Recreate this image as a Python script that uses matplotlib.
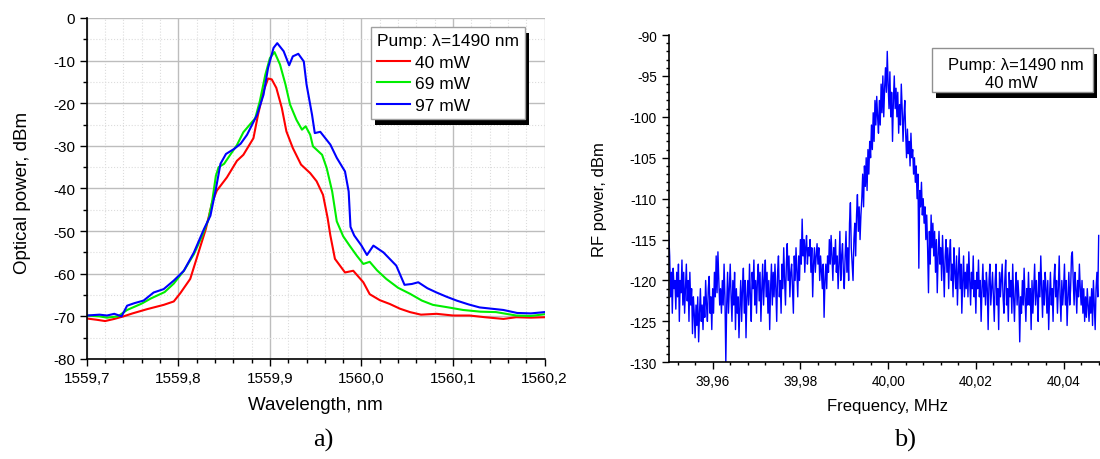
import numpy as np
import matplotlib
matplotlib.use('Agg')
import matplotlib.pyplot as plt
from matplotlib.ticker import MultipleLocator, FuncFormatter
from matplotlib.patches import Rectangle
from matplotlib import patheffects

plt.rcParams['font.family'] = ['Liberation Sans', 'DejaVu Sans']
plt.rcParams['axes.unicode_minus'] = False

# a) optical spectra, wavelength in nm, power in dBm
wl_40 = [1559.700, 1559.711, 1559.720, 1559.730, 1559.740, 1559.750, 1559.766, 1559.784, 1559.795,
         1559.802, 1559.813, 1559.822, 1559.830, 1559.837, 1559.842, 1559.853, 1559.864, 1559.871,
         1559.882, 1559.887, 1559.893, 1559.898, 1559.902, 1559.907, 1559.913, 1559.918, 1559.925,
         1559.934, 1559.944, 1559.951, 1559.958, 1559.963, 1559.966, 1559.971, 1559.982, 1559.991,
         1560.002, 1560.009, 1560.020, 1560.031, 1560.042, 1560.053, 1560.065, 1560.082, 1560.100,
         1560.118, 1560.135, 1560.155, 1560.169, 1560.185, 1560.200]
p_40 = [-70.5, -70.8, -71.1, -70.6, -70.0, -69.3, -68.3, -67.3, -66.5,
        -64.6, -61.2, -55.0, -49.5, -43.2, -40.5, -37.4, -33.5, -32.1,
        -28.2, -22.7, -17.2, -14.2, -14.4, -16.4, -21.1, -26.6, -30.5,
        -34.4, -36.4, -38.3, -41.5, -46.9, -51.0, -56.5, -59.7, -59.3,
        -62.0, -64.8, -66.2, -67.1, -68.2, -69.0, -69.6, -69.4, -69.8,
        -69.8, -70.2, -70.6, -70.2, -70.3, -70.2]

wl_69 = [1559.700, 1559.714, 1559.722, 1559.734, 1559.744, 1559.760, 1559.770, 1559.785, 1559.795,
         1559.806, 1559.817, 1559.826, 1559.833, 1559.837, 1559.841, 1559.844, 1559.850, 1559.856,
         1559.864, 1559.871, 1559.884, 1559.889, 1559.895, 1559.900, 1559.905, 1559.911, 1559.917,
         1559.922, 1559.929, 1559.935, 1559.939, 1559.944, 1559.947, 1559.957, 1559.962, 1559.968,
         1559.973, 1559.980, 1559.987, 1559.995, 1560.002, 1560.009, 1560.017, 1560.027, 1560.040,
         1560.053, 1560.066, 1560.078, 1560.095, 1560.111, 1560.130, 1560.147, 1560.169, 1560.185,
         1560.200]
p_69 = [-69.8, -70.0, -70.3, -70.0, -68.5, -67.0, -65.8, -64.3, -62.3,
        -59.3, -55.4, -51.1, -47.2, -42.9, -37.0, -35.0, -34.2, -32.3,
        -29.8, -26.8, -23.5, -19.5, -13.3, -9.4, -8.0, -10.9, -15.6,
        -20.3, -23.9, -26.2, -25.4, -27.4, -30.1, -32.1, -35.2, -40.7,
        -47.7, -51.2, -53.4, -55.8, -57.7, -57.2, -59.2, -61.2, -63.3,
        -64.7, -66.3, -67.3, -67.9, -68.5, -68.9, -69.0, -69.8, -69.9,
        -69.5]

wl_97 = [1559.700, 1559.714, 1559.722, 1559.730, 1559.738, 1559.744, 1559.752, 1559.762, 1559.773,
         1559.784, 1559.795, 1559.806, 1559.817, 1559.828, 1559.835, 1559.841, 1559.846, 1559.852,
         1559.861, 1559.868, 1559.875, 1559.886, 1559.893, 1559.898, 1559.904, 1559.908, 1559.915,
         1559.921, 1559.925, 1559.931, 1559.937, 1559.940, 1559.946, 1559.949, 1559.955, 1559.966,
         1559.973, 1559.982, 1559.986, 1559.988, 1559.992, 1560.000, 1560.006, 1560.013, 1560.024,
         1560.038, 1560.047, 1560.055, 1560.062, 1560.072, 1560.082, 1560.093, 1560.104, 1560.117,
         1560.129, 1560.142, 1560.155, 1560.170, 1560.185, 1560.200]
p_97 = [-69.8, -69.6, -69.8, -69.4, -70.0, -67.5, -66.9, -66.3, -64.4,
        -63.6, -61.6, -59.3, -55.0, -49.5, -46.4, -40.1, -34.2, -31.9,
        -30.7, -29.5, -27.4, -22.7, -18.0, -11.7, -7.0, -5.9, -7.8,
        -11.1, -9.0, -8.4, -10.2, -15.6, -22.7, -27.0, -26.7, -29.7,
        -32.8, -36.0, -40.7, -49.0, -51.0, -53.4, -55.6, -53.4, -55.0,
        -58.1, -62.6, -62.4, -62.0, -63.4, -64.4, -65.4, -66.3, -67.2,
        -67.9, -68.2, -68.5, -69.2, -69.3, -69.0]

# b) RF spectrum, 0.2 kHz bins from 39.950 MHz, power in dBm
rf_start = 39.95
rf_step = 0.0002
rf_power = [
    -114.5, -117, -122, -119, -124, -118.5, -121, -120, -123.5, -119,
    -122, -118, -125, -120, -121.5, -117.5, -123, -119, -124, -121,
    -118, -122.5, -120, -125, -119, -123, -121, -126.5, -122, -124,
    -127, -123, -125.5, -122, -127.5, -124, -121, -125, -123, -126,
    -122, -124.5, -120, -123, -125, -121, -119.5, -124, -122, -126,
    -121, -124, -119, -122, -117, -121.5, -116.5, -120, -123, -121,
    -124, -120, -123, -118, -122, -130, -123, -119, -124, -121,
    -118, -122, -125, -120, -123, -119, -126, -121, -124, -122,
    -127, -123, -120, -125, -121, -118.5, -124, -120, -127, -122,
    -120, -123, -118, -122, -125, -119, -121, -117.5, -123, -120,
    -124, -120, -118, -122.5, -119, -125, -121, -118, -123, -120,
    -117.5, -122, -119, -124, -120, -126, -121, -118, -123, -119,
    -122, -118, -121, -125, -119, -117, -122, -120, -124, -118,
    -121, -116, -120, -123, -118, -115.5, -120, -117, -122, -119,
    -118, -121, -124, -117, -120, -116, -119, -122, -117, -120,
    -115, -118, -112.5, -117, -115, -119, -116, -114.5, -118, -116,
    -117, -115, -119, -116, -122, -118, -116, -119, -117, -115.5,
    -118, -116, -120, -117, -119, -121, -118, -124.5, -120, -118,
    -121, -117, -119, -115, -118, -114.5, -117, -120, -116, -118,
    -115, -119, -117, -121, -118, -114, -120, -117, -115.5, -119,
    -121, -117, -114, -119, -116, -120, -113, -110.5, -116, -118,
    -120, -115, -113, -117, -112, -109.5, -114, -111, -115, -112,
    -110, -107, -111, -106, -108.5, -105, -109, -104, -107, -103,
    -105, -101, -104, -99.5, -103, -98, -101, -97.5, -100, -102,
    -98, -101, -96, -99.5, -95, -100, -96.5, -94, -97, -92,
    -96, -99, -94.5, -100, -97, -103, -98, -95, -99, -96.5,
    -100, -97, -102, -98.5, -101, -96, -99, -103, -100, -98,
    -102, -105, -101.5, -104.5, -103, -106, -102, -105, -104, -107,
    -105, -108, -106, -110, -107, -118.5, -109, -111, -108, -112,
    -110, -113, -111, -115, -112, -116, -121.5, -114, -118, -112,
    -116, -113, -117, -114, -119, -115, -121.5, -117, -114, -118,
    -116, -120, -114.5, -118, -122, -117, -115, -119, -116, -121,
    -117, -115, -120, -118, -122, -116, -119, -121, -117, -123,
    -119, -116, -121, -118, -124, -120, -117, -122, -119, -121,
    -118, -122, -116.5, -120, -123, -119, -121, -117, -122, -120,
    -124, -119, -121, -117.5, -122, -120, -125, -121, -118, -122,
    -120, -123, -119, -121, -126, -120, -118, -123, -121, -119,
    -122, -125, -120, -118, -123, -121, -126, -119, -122, -120,
    -118, -122, -124, -120, -117.5, -123, -121, -125, -119, -122,
    -120, -124, -118, -122, -125, -121, -119, -123, -120, -122,
    -127.5, -122, -124, -120, -123, -118.5, -122, -125, -121, -123,
    -119, -123, -121, -126, -120, -124, -121, -118, -123, -120,
    -122, -125, -119, -122, -117, -121, -124.5, -120, -123, -119,
    -121, -124, -120, -126, -122, -119, -123, -121, -125, -120,
    -118, -122, -120, -124, -121, -117, -122, -125, -120, -123,
    -121, -118, -123, -120, -125.5, -122, -119, -123, -121, -117,
    -116.5, -120, -123, -119, -121, -124, -120, -122, -118, -121,
    -123, -120, -124, -121, -125, -122, -124.5, -121, -123, -125,
    -122, -124, -121, -125.5, -120, -123, -126, -121, -119, -122,
    -114.5,
]
rf_freq = rf_start + rf_step * np.arange(len(rf_power))


def comma(ndig):
    return FuncFormatter(lambda v, p: f"{v:.{ndig}f}".replace('.', ','))


fig = plt.figure(figsize=(11, 4.6), dpi=100)

# ---- a) ----
ax1 = fig.add_axes([0.0789, 0.2174, 0.4162, 0.7413])
ax1.plot(wl_40, p_40, color='#ff0000', lw=1.5, label='40 mW')
ax1.plot(wl_69, p_69, color='#00ee00', lw=1.5, label='69 mW')
ax1.plot(wl_97, p_97, color='#0000ff', lw=1.5, label='97 mW')
ax1.set_xlim(1559.7, 1560.2)
ax1.set_ylim(-80, 0)
ax1.xaxis.set_major_locator(MultipleLocator(0.1))
ax1.xaxis.set_minor_locator(MultipleLocator(0.02))
ax1.yaxis.set_major_locator(MultipleLocator(10))
ax1.yaxis.set_minor_locator(MultipleLocator(5))
ax1.xaxis.set_major_formatter(comma(1))
ax1.grid(which='major', color='#bdbdbd', lw=1.0)
ax1.grid(which='minor', color='#dcdcdc', lw=0.8, ls=':')
ax1.set_axisbelow(True)
for s in ['top', 'right']:
    ax1.spines[s].set_visible(False)
for s in ['left', 'bottom']:
    ax1.spines[s].set_linewidth(1.2)
ax1.tick_params(which='major', direction='out', length=5, width=1, labelsize=11)
ax1.tick_params(which='minor', direction='out', length=3, width=1)
ax1.set_xlabel('Wavelength, nm', fontsize=13.5, va='center')
ax1.set_ylabel('Optical power, dBm', fontsize=13.5, va='center')
ax1.xaxis.set_label_coords(0.5, -0.132)
ax1.yaxis.set_label_coords(-0.14, 0.49)

leg = ax1.legend(title='Pump: λ=1490 nm', loc='upper right', bbox_to_anchor=(0.957, 0.973),
                 fontsize=12.5, title_fontsize=12.5, alignment='left', fancybox=False,
                 edgecolor='#a0a0a0', framealpha=1, handlelength=1.9, handletextpad=0.3,
                 labelspacing=0.37, borderpad=0.35, borderaxespad=0)
leg.get_frame().set_linewidth(1.0)
leg.get_frame().set_path_effects([
    patheffects.SimplePatchShadow(offset=(3, -4), shadow_rgbFace='black', alpha=1),
    patheffects.Normal()])

# ---- b) ----
ax2 = fig.add_axes([0.608, 0.2102, 0.392, 0.7115])
ax2.plot(rf_freq, rf_power, color='#0000ff', lw=1.0)
ax2.set_xlim(39.95, 40.0483)
ax2.set_ylim(-130, -90)
ax2.xaxis.set_major_locator(MultipleLocator(0.02))
ax2.xaxis.set_minor_locator(MultipleLocator(0.004))
ax2.yaxis.set_major_locator(MultipleLocator(5))
ax2.yaxis.set_minor_locator(MultipleLocator(1))
ax2.xaxis.set_major_formatter(comma(2))
for s in ['top', 'right']:
    ax2.spines[s].set_visible(False)
for s in ['left', 'bottom']:
    ax2.spines[s].set_linewidth(1.2)
ax2.tick_params(which='major', direction='out', length=5, width=1, labelsize=9.8)
ax2.tick_params(which='minor', direction='out', length=2.5, width=1)
ax2.set_xlabel('Frequency, MHz', fontsize=12, va='center')
ax2.set_ylabel('RF power, dBm', fontsize=12, va='center')
ax2.xaxis.set_label_coords(0.508, -0.1305)
ax2.yaxis.set_label_coords(-0.1596, 0.499)

box = Rectangle((0.611, 0.825), 0.3735, 0.1353, transform=ax2.transAxes, fc='white',
                ec='#909090', lw=1.0, clip_on=False, zorder=5)
box.set_path_effects([
    patheffects.SimplePatchShadow(offset=(3, -4), shadow_rgbFace='black', alpha=1),
    patheffects.Normal()])
ax2.add_patch(box)
ax2.text(0.806, 0.911, 'Pump: λ=1490 nm', transform=ax2.transAxes, ha='center', va='center',
         fontsize=12, zorder=6)
ax2.text(0.794, 0.856, '40 mW', transform=ax2.transAxes, ha='center', va='center',
         fontsize=12, zorder=6)

# panel letters
fig.text(323 / 1100, 1 - 440 / 460, 'a)', family='Liberation Serif', fontsize=19,
         ha='center', va='center')
fig.text(905 / 1100, 1 - 440 / 460, 'b)', family='Liberation Serif', fontsize=19,
         ha='center', va='center')

fig.savefig('out.png', dpi=100)
